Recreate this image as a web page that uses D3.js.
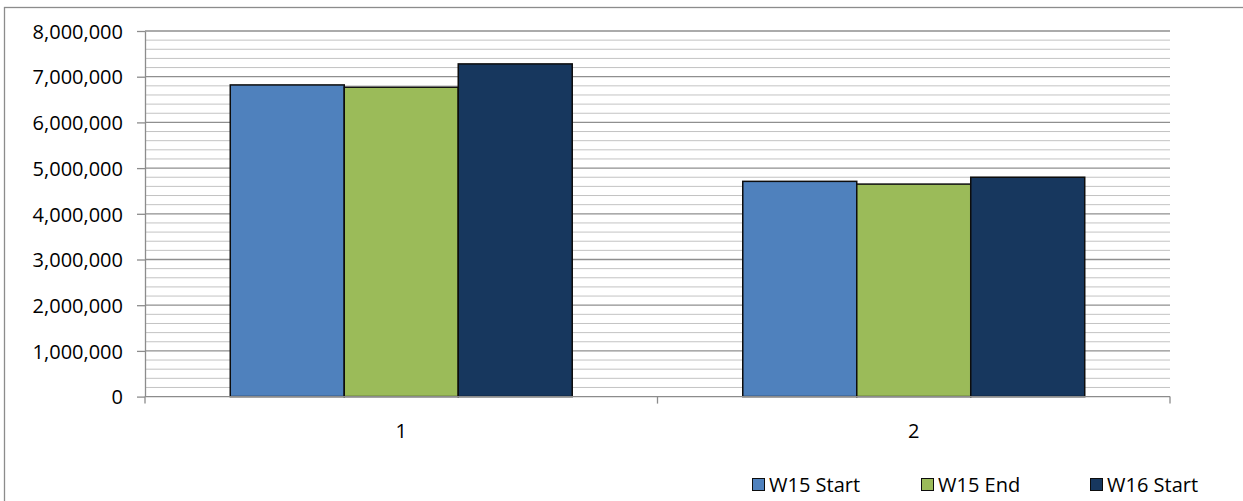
<!DOCTYPE html>
<html>
<head>
<meta charset="utf-8">
<script src="https://cdn.jsdelivr.net/npm/d3@7"></script>
<style>
  html, body { margin: 0; padding: 0; background: #fff; }
  svg { display: block; }
  text { font-family: "Open Sans", "Noto Sans", sans-serif; fill: #000; }
</style>
</head>
<body>
<svg id="chart" width="1243" height="501"></svg>
<script>
const categories = ["1", "2"];
const seriesNames = ["W15 Start", "W15 End", "W16 Start"];
const w15Start = [6820000, 4710000];
const w15End = [6770000, 4650000];
const w16Start = [7280000, 4800000];
const seriesColors = ["#4f81bd", "#9bbb59", "#17375e"];
const yTicks = [0, 1000000, 2000000, 3000000, 4000000, 5000000, 6000000, 7000000, 8000000];
const yMax = 8000000;
const minorStep = 200000;

const seriesValues = [w15Start, w15End, w16Start];

const svg = d3.select("#chart");
const W = 1243, H = 501;
const plot = { left: 145, right: 1170, top: 31, bottom: 396.6 };

// outer frame
svg.append("rect")
  .attr("x", 4.5).attr("y", 7.5)
  .attr("width", W + 20).attr("height", H + 20)
  .attr("fill", "#fff").attr("stroke", "#8c8c8c").attr("stroke-width", 1.3);

const y = d3.scaleLinear().domain([0, yMax]).range([plot.bottom, plot.top]);
const x0 = d3.scaleBand().domain(categories).range([plot.left, plot.right]).padding(0);
const x1 = d3.scaleBand().domain(seriesNames).range([0, x0.bandwidth()])
  .paddingInner(0).paddingOuter(0.748);

// minor gridlines
const minor = d3.range(0, yMax + 1, minorStep).filter(v => v % 1000000 !== 0);
svg.append("g").selectAll("line").data(minor).join("line")
  .attr("x1", plot.left).attr("x2", plot.right)
  .attr("y1", d => y(d)).attr("y2", d => y(d))
  .attr("stroke", "#c3c3c3").attr("stroke-width", 1);

// major gridlines
svg.append("g").selectAll("line").data(yTicks.filter(v => v > 0)).join("line")
  .attr("x1", plot.left).attr("x2", plot.right)
  .attr("y1", d => y(d)).attr("y2", d => y(d))
  .attr("stroke", "#8f8f8f").attr("stroke-width", 1.3);

// bars
const rows = categories.map((c, i) => ({ cat: c, vals: seriesNames.map((s, j) => ({ s, j, v: seriesValues[j][i] })) }));
svg.append("g").selectAll("g").data(rows).join("g")
  .attr("transform", d => `translate(${x0(d.cat)},0)`)
  .selectAll("rect").data(d => d.vals).join("rect")
  .attr("x", d => x1(d.s))
  .attr("y", d => y(d.v))
  .attr("width", x1.bandwidth())
  .attr("height", d => y(0) - y(d.v))
  .attr("fill", d => seriesColors[d.j])
  .attr("stroke", "#0d0d0d").attr("stroke-width", 1.5);

// y axis
const yAxis = svg.append("g").attr("transform", `translate(${plot.left},0)`)
  .call(d3.axisLeft(y).tickValues(yTicks).tickSize(8).tickPadding(14)
    .tickFormat(d3.format(",")).tickSizeOuter(0));
yAxis.select(".domain").attr("stroke", "#8c8c8c").attr("stroke-width", 1.3);
yAxis.selectAll(".tick line").attr("stroke", "#8c8c8c").attr("stroke-width", 1.3);
yAxis.selectAll(".tick text").style("font-size", "20px").attr("dy", "0.36em");

// x axis line + boundary ticks
const bounds = categories.map(c => x0(c)).concat([x0.range()[1]]);
svg.append("line")
  .attr("x1", plot.left).attr("x2", plot.right)
  .attr("y1", y(0)).attr("y2", y(0))
  .attr("stroke", "#8c8c8c").attr("stroke-width", 1.3);
svg.append("g").selectAll("line").data(bounds).join("line")
  .attr("x1", d => d).attr("x2", d => d)
  .attr("y1", y(0)).attr("y2", y(0) + 7)
  .attr("stroke", "#8c8c8c").attr("stroke-width", 1.3);

const xAxis = svg.append("g").attr("transform", `translate(0,${y(0)})`)
  .call(d3.axisBottom(x0).tickSize(0).tickPadding(27));
xAxis.select(".domain").remove();
xAxis.selectAll(".tick text").style("font-size", "20px");

// legend
const legend = svg.append("g");
const lx = d3.scalePoint().domain(seriesNames).range([752, 1090]);
const li = legend.selectAll("g").data(seriesNames).join("g")
  .attr("transform", d => `translate(${lx(d)},478)`);
li.append("rect").attr("x", 0.5).attr("y", 0.5).attr("width", 12).attr("height", 12)
  .attr("fill", (d, i) => seriesColors[i]).attr("stroke", "#0d0d0d").attr("stroke-width", 1);
li.append("text").attr("x", 17).attr("y", 13.5).style("font-size", "20px").text(d => d);
</script>
</body>
</html>
